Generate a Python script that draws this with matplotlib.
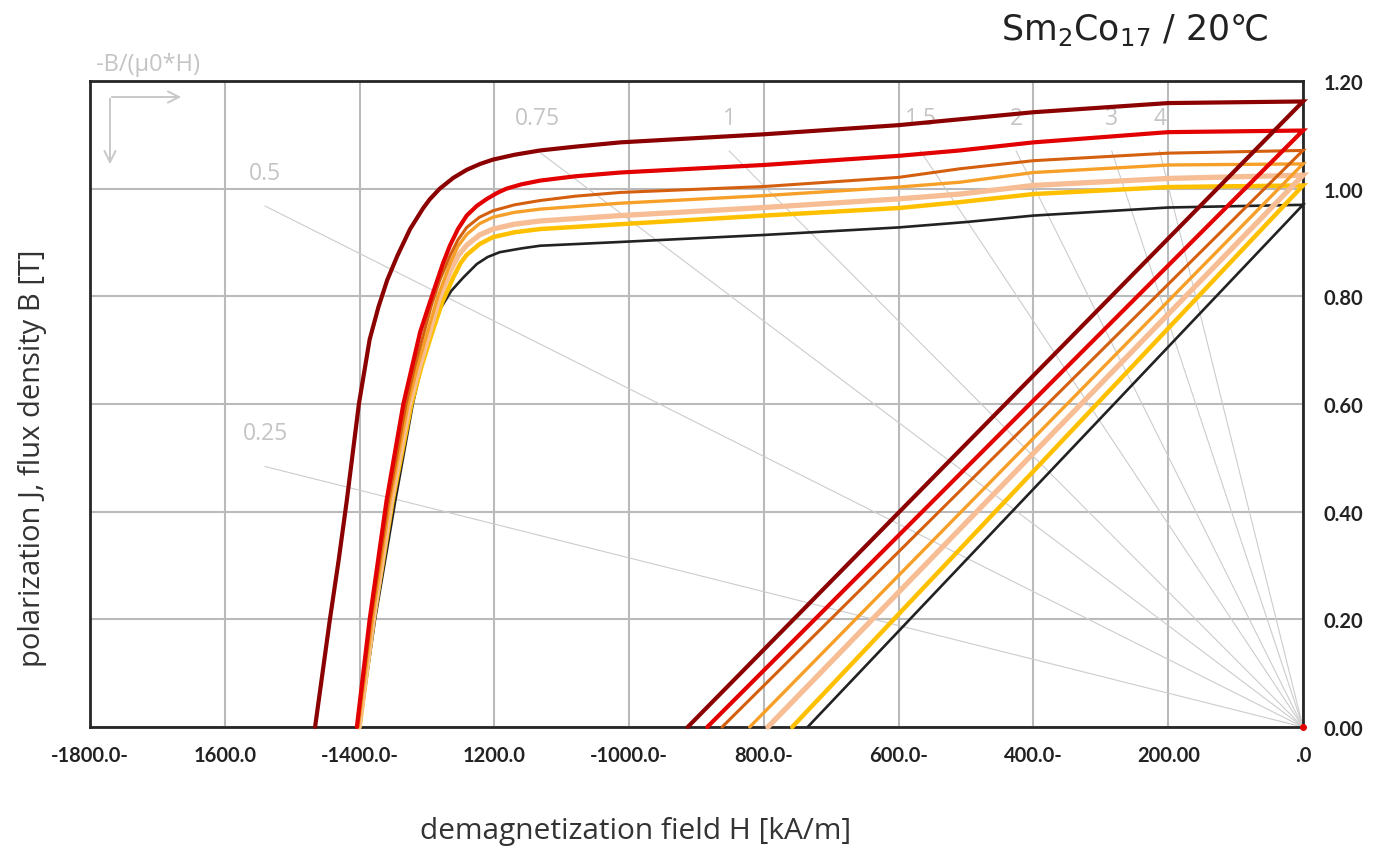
import matplotlib
matplotlib.use("Agg")
import matplotlib.pyplot as plt
import numpy as np

# demagnetization curves, H in kA/m, J in T
grade_colors = ["#222222", "#ffc000", "#f7bd95", "#f7a029", "#d4600f", "#e30000", "#8b0000"]
grade_widths = [1.9, 3.2, 3.8, 2.4, 2.2, 3.0, 3.0]

# B lines: remanence and coercivity
br = [0.970, 1.006, 1.025, 1.046, 1.071, 1.108, 1.162]
hcb = [-735, -758, -794, -821, -862, -884, -913]

h_black = [-1400, -1377, -1347, -1321, -1308, -1296, -1281, -1264, -1246, -1226, -1210, -1192, -1160,
           -1132, -1013, -800, -600, -500, -400, -200, 0]
j_black = [0.0, 0.20, 0.42, 0.60, 0.67, 0.725, 0.775, 0.810, 0.835, 0.860, 0.873, 0.882, 0.889,
           0.894, 0.901, 0.914, 0.928, 0.938, 0.950, 0.965, 0.970]

h_yellow = [-1400, -1379, -1351, -1323, -1308, -1293, -1277, -1261, -1250, -1241, -1222, -1202, -1170,
            -1132, -1013, -800, -600, -509, -400, -200, 0]
j_yellow = [0.0, 0.20, 0.42, 0.60, 0.67, 0.73, 0.79, 0.835, 0.862, 0.877, 0.897, 0.910, 0.919,
            0.925, 0.934, 0.950, 0.964, 0.975, 0.990, 1.003, 1.006]

h_salmon = [-1401, -1380, -1353, -1326, -1311, -1297, -1282, -1266, -1254, -1241, -1222, -1202, -1170,
            -1132, -1013, -800, -600, -509, -400, -200, 0]
j_salmon = [0.0, 0.20, 0.42, 0.60, 0.67, 0.73, 0.795, 0.845, 0.875, 0.895, 0.914, 0.925, 0.934,
            0.940, 0.950, 0.965, 0.981, 0.990, 1.006, 1.019, 1.025]

h_orange = [-1402, -1381, -1355, -1328, -1314, -1300, -1285, -1266, -1254, -1241, -1222, -1202, -1170,
            -1132, -1013, -800, -600, -509, -400, -200, 0]
j_orange = [0.0, 0.20, 0.42, 0.60, 0.67, 0.73, 0.795, 0.860, 0.893, 0.915, 0.935, 0.947, 0.956,
            0.962, 0.973, 0.987, 1.003, 1.012, 1.030, 1.044, 1.046]

h_dkorange = [-1403, -1383, -1357, -1331, -1318, -1305, -1293, -1281, -1266, -1254, -1241, -1222, -1202,
              -1170, -1132, -1080, -1013, -800, -600, -509, -400, -200, 0]
j_dkorange = [0.0, 0.20, 0.42, 0.60, 0.67, 0.73, 0.785, 0.83, 0.875, 0.905, 0.928, 0.947, 0.959,
              0.970, 0.978, 0.986, 0.993, 1.004, 1.021, 1.037, 1.052, 1.066, 1.071]

h_red = [-1404, -1385, -1360, -1335, -1322, -1310, -1298, -1286, -1276, -1266, -1254, -1241, -1226,
         -1211, -1196, -1182, -1160, -1132, -1080, -1013, -800, -600, -509, -400, -200, 0]
j_red = [0.0, 0.20, 0.42, 0.60, 0.67, 0.734, 0.78, 0.825, 0.862, 0.894, 0.925, 0.950, 0.968,
         0.981, 0.992, 1.000, 1.008, 1.015, 1.023, 1.030, 1.044, 1.061, 1.071, 1.086, 1.105, 1.108]

h_dkred = [-1466, -1455, -1444, -1431, -1419, -1410, -1401, -1393, -1385, -1372, -1359, -1344, -1325,
           -1306, -1296, -1281, -1261, -1241, -1221, -1202, -1170, -1132, -1080, -1013, -800, -600,
           -400, -200, 0]
j_dkred = [0.0, 0.10, 0.20, 0.31, 0.42, 0.51, 0.60, 0.66, 0.72, 0.78, 0.83, 0.875, 0.925,
           0.963, 0.980, 1.000, 1.020, 1.035, 1.046, 1.054, 1.063, 1.071, 1.078, 1.086, 1.101, 1.118,
           1.142, 1.159, 1.162]

j_curves = [
    (h_black, j_black),
    (h_yellow, j_yellow),
    (h_salmon, j_salmon),
    (h_orange, j_orange),
    (h_dkorange, j_dkorange),
    (h_red, j_red),
    (h_dkred, j_dkred),
]

# permeance coefficient lines
permeance = [0.25, 0.5, 0.75, 1, 1.5, 2, 3, 4]
permeance_labels = ["0.25", "0.5", "0.75", "1", "1.5", "2", "3", "4"]
load_line_bmax = 1.07
load_line_hmax = 1540

x_ticks = [-1800, -1600, -1400, -1200, -1000, -800, -600, -400, -200, 0]
x_ticklabels = ["-1800.0-", "1600.0", "-1400.0-", "1200.0", "-1000.0-",
                "800.0-", "600.0-", "400.0-", "200.00", ".0"]
y_ticks = [0.0, 0.2, 0.4, 0.6, 0.8, 1.0, 1.2]
y_ticklabels = ["0.00", "0.20", "0.40", "0.60", "0.80", "1.00", "1.20"]

MU0 = 4e-4 * np.pi  # T per kA/m

W, H = 1375, 854
fig = plt.figure(figsize=(W / 100, H / 100), dpi=100)
ax = fig.add_axes([90 / W, 1 - 728 / H, (1303 - 90) / W, (728 - 82) / H])

gray_txt = "#c4c4c4"
lab_font = ["Open Sans", "DejaVu Sans"]

# load lines
for p, lab in zip(permeance, permeance_labels):
    h_end = min(load_line_hmax, load_line_bmax / (p * MU0))
    b_end = p * MU0 * h_end
    ax.plot([-h_end, 0], [b_end, 0], color="#cccccc", lw=0.8, zorder=2)
    ax.text(-h_end, b_end + 0.062, lab, color=gray_txt, fontsize=16.5,
            family=lab_font, ha="center", va="center")

# B lines joined with J curves
for (hj, jj), b0, hc, c, lw in zip(j_curves, br, hcb, grade_colors, grade_widths):
    xs = [hc, 0] + hj[::-1]
    ys = [0, b0] + jj[::-1]
    ax.plot(xs, ys, color=c, lw=lw, zorder=3, clip_on=False,
            solid_joinstyle="miter", solid_capstyle="round")

ax.plot([0], [0], "o", color="#e30000", ms=4, clip_on=False, zorder=4)

ax.set_xlim(-1800, 0)
ax.set_ylim(0, 1.2)
ax.set_xticks(x_ticks)
ax.set_xticklabels(x_ticklabels)
ax.set_yticks(y_ticks)
ax.set_yticklabels(y_ticklabels)
ax.yaxis.tick_right()
ax.tick_params(length=0, labelsize=14.5, colors="#222222")
ax.tick_params(axis="x", pad=13)
ax.tick_params(axis="y", pad=15)
for t in ax.get_xticklabels() + ax.get_yticklabels():
    t.set_fontweight("bold")
    t.set_family(["Lato", "DejaVu Sans"])
ax.grid(True, color="#bababa", lw=1.5, zorder=1)
ax.set_axisbelow(True)
for s in ax.spines.values():
    s.set_color("#262626")
    s.set_linewidth(2.0)

# axis labels and title
fig.text(33 / W, 1 - 458 / H, "polarization J, flux density B [T]", rotation=90,
         ha="center", va="center", fontsize=21, color="#333333", family=lab_font)
fig.text(636 / W, 1 - 832 / H, "demagnetization field H [kA/m]",
         ha="center", va="center", fontsize=21.5, color="#333333", family=lab_font)
fig.text(1135 / W, 1 - 30 / H, "Sm$_\\mathregular{2}$Co$_\\mathregular{17}$ / 20\u2103",
         ha="center", va="center", fontsize=25, color="#222222", family="DejaVu Sans")
fig.text(148 / W, 1 - 65 / H, "-B/(\u03bc0*H)", ha="center", va="center",
         fontsize=17, color=gray_txt, family=lab_font)

# direction arrows in the corner
arrow = dict(arrowstyle="->,head_length=0.8,head_width=0.4", color="#c8c8c8", lw=1.4)
ax.annotate("", xy=(184, H - 98), xytext=(109, H - 98),
            xycoords="figure pixels", textcoords="figure pixels", arrowprops=arrow)
ax.annotate("", xy=(110, H - 168), xytext=(110, H - 97),
            xycoords="figure pixels", textcoords="figure pixels", arrowprops=arrow)

fig.savefig("out.png", dpi=100)
